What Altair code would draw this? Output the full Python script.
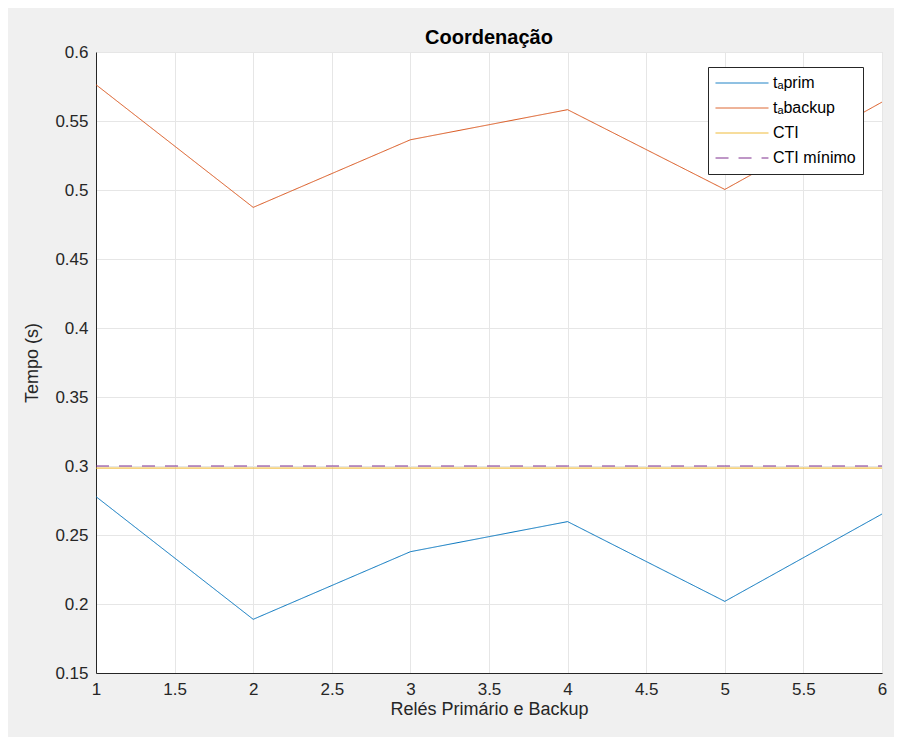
import altair as alt
import pandas as pd

x_vals = [1, 2, 3, 4, 5, 6]
t_prim = [0.2778, 0.1889, 0.2379, 0.2597, 0.2019, 0.2652]
t_backup = [0.5763, 0.4874, 0.5364, 0.5582, 0.5004, 0.5637]
cti = [0.2985, 0.2985, 0.2985, 0.2985, 0.2985, 0.2985]
cti_min = [0.3, 0.3, 0.3, 0.3, 0.3, 0.3]

series_names = ["tₐprim", "tₐbackup", "CTI", "CTI mínimo"]
series_colors = ["#0072BD", "#D95319", "#EDB120", "#7E2F8E"]
series_dash = [[1, 0], [1, 0], [1, 0], [13, 10]]

x_ticks = [1, 1.5, 2, 2.5, 3, 3.5, 4, 4.5, 5, 5.5, 6]
y_ticks = [0.15, 0.2, 0.25, 0.3, 0.35, 0.4, 0.45, 0.5, 0.55, 0.6]

rows = []
for name, vals in zip(series_names, [t_prim, t_backup, cti, cti_min]):
    for xv, yv in zip(x_vals, vals):
        rows.append({"x": xv, "y": yv, "serie": name})
df = pd.DataFrame(rows)

FONT = "Liberation Sans"

chart = alt.Chart(df).mark_line(strokeWidth=1, clip=True).encode(
    x=alt.X("x:Q", scale=alt.Scale(domain=[1, 6], nice=False, zero=False),
            axis=alt.Axis(values=x_ticks, format="~g", title="Relés Primário e Backup",
                          titleFontSize=18, titleFontWeight="normal", titlePadding=3,
                          labelFontSize=17, labelPadding=8, tickSize=0,
                          labelFlush=False)),
    y=alt.Y("y:Q", scale=alt.Scale(domain=[0.15, 0.6], nice=False, zero=False),
            axis=alt.Axis(values=y_ticks, format=".2~f", title="Tempo (s)",
                          titleFontSize=18, titleFontWeight="normal", titlePadding=13,
                          labelFontSize=17, labelPadding=8, tickSize=0,
                          labelFlush=False)),
    color=alt.Color("serie:N", scale=alt.Scale(domain=series_names, range=series_colors),
                    legend=alt.Legend(title=None, orient="none", legendX=612, legendY=15,
                                      symbolType="stroke", symbolSize=2800, symbolStrokeWidth=1,
                                      labelFontSize=16, labelFont=FONT, labelColor="#000000",
                                      fillColor="white", strokeColor="#262626",
                                      padding=7, rowPadding=7, clipHeight=18,
                                      labelOffset=4)),
    strokeDash=alt.StrokeDash("serie:N", scale=alt.Scale(domain=series_names, range=series_dash),
                              legend=None),
    order=alt.Order("serie:N"),
).properties(
    width=786,
    height=621,
    background="#f0f0f0",
    padding={"left": 88, "top": 44, "right": 12, "bottom": 64},
    autosize=alt.AutoSizeParams(type="none"),
    title=alt.Title("Coordenação", fontSize=20, fontWeight="bold", font=FONT,
                    color="#000000", offset=-5),
).configure_view(
    fill="white", stroke="#dddddd", strokeWidth=1
).configure_axis(
    labelFont=FONT, titleFont=FONT, labelColor="#262626", titleColor="#262626",
    domainColor="#262626", domainWidth=1, gridColor="#e6e6e6", gridWidth=1, grid=True
)

chart.save("out.html", embed_options={"renderer": "svg", "actions": False})
